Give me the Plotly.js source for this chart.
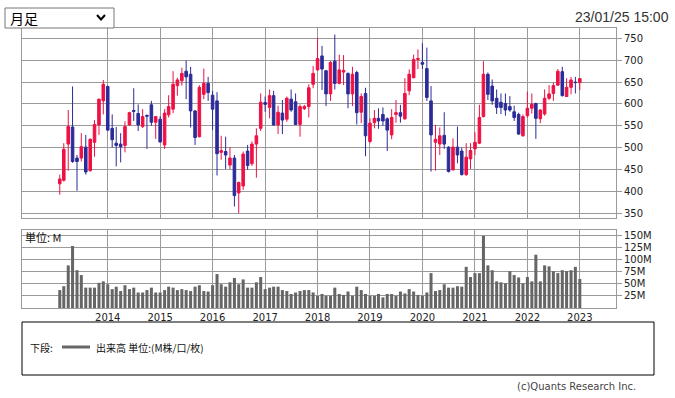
<!DOCTYPE html>
<html><head><meta charset="utf-8">
<script src="https://cdn.plot.ly/plotly-3.0.1.min.js"></script>
<style>html,body{margin:0;padding:0;background:#fff;}#chart{width:675px;height:398px;}</style>
</head><body><div id="chart"></div>
<script>
const months = [
'2013-02','2013-03','2013-04','2013-05','2013-06','2013-07','2013-08','2013-09','2013-10','2013-11','2013-12',
'2014-01','2014-02','2014-03','2014-04','2014-05','2014-06','2014-07','2014-08','2014-09','2014-10','2014-11','2014-12',
'2015-01','2015-02','2015-03','2015-04','2015-05','2015-06','2015-07','2015-08','2015-09','2015-10','2015-11','2015-12',
'2016-01','2016-02','2016-03','2016-04','2016-05','2016-06','2016-07','2016-08','2016-09','2016-10','2016-11','2016-12',
'2017-01','2017-02','2017-03','2017-04','2017-05','2017-06','2017-07','2017-08','2017-09','2017-10','2017-11','2017-12',
'2018-01','2018-02','2018-03','2018-04','2018-05','2018-06','2018-07','2018-08','2018-09','2018-10','2018-11','2018-12',
'2019-01','2019-02','2019-03','2019-04','2019-05','2019-06','2019-07','2019-08','2019-09','2019-10','2019-11','2019-12',
'2020-01','2020-02','2020-03','2020-04','2020-05','2020-06','2020-07','2020-08','2020-09','2020-10','2020-11','2020-12',
'2021-01','2021-02','2021-03','2021-04','2021-05','2021-06','2021-07','2021-08','2021-09','2021-10','2021-11','2021-12',
'2022-01','2022-02','2022-03','2022-04','2022-05','2022-06','2022-07','2022-08','2022-09','2022-10','2022-11','2022-12',
'2023-01'];
const openP = [
417,425,508,547,476,476,501,447,512,552,607,
640,544,510,508,505,552,585,578,548,574,598,558,
565,506,575,588,642,653,675,668,584,525,622,647,
620,607,489,491,460,476,396,412,492,463,508,544,
603,592,619,552,579,565,611,605,553,589,594,645,
678,710,676,623,698,647,673,670,623,672,581,624,
514,557,567,576,566,529,576,580,566,630,660,702,
695,681,607,512,508,528,501,449,501,492,438,474,
497,510,571,668,641,613,604,601,594,582,576,527,
573,590,601,566,577,613,624,643,674,617,638,650,
649];
const highP = [
438,510,586,640,483,533,529,521,563,612,655,
642,576,547,533,560,582,636,599,588,575,607,572,
572,588,620,675,660,683,699,685,586,643,681,662,
630,627,527,525,501,483,422,491,506,514,544,624,
617,633,630,596,609,617,633,624,599,598,645,687,
752,733,678,698,759,713,712,672,685,676,624,637,
567,586,590,592,569,588,609,598,659,679,713,725,
739,729,641,552,546,581,503,521,548,500,510,510,
535,598,698,672,656,633,624,624,618,596,580,576,
628,624,603,588,633,643,649,680,685,659,662,662,
659];
const lowP = [
392,422,447,465,401,468,438,445,479,529,576,
538,500,457,466,489,550,561,538,545,497,550,520,
511,497,569,579,619,642,611,546,506,523,611,607,
540,436,472,451,451,365,350,403,449,458,431,538,
582,567,550,531,531,559,582,552,525,586,569,636,
676,632,595,607,633,645,643,590,595,553,556,480,
510,544,543,550,492,519,557,557,563,620,659,680,
680,607,445,447,483,497,443,447,464,436,435,451,
483,508,569,609,598,577,577,573,582,561,529,525,
569,578,520,556,573,609,607,642,617,617,622,624,
632];
const closeP = [
428,496,548,468,468,502,444,519,553,611,645,
540,518,505,502,548,580,583,552,571,572,558,571,
513,579,594,645,655,670,662,584,523,638,647,626,
588,486,493,483,476,390,420,485,459,508,527,604,
599,619,552,581,563,613,586,553,594,594,637,670,
704,680,623,695,647,678,677,623,668,580,617,527,
556,567,561,561,540,569,580,572,624,668,702,704,
691,615,529,519,527,508,445,501,483,438,478,493,
512,569,668,622,607,592,592,586,586,569,531,571,
590,599,567,586,613,623,642,675,619,638,655,649,
658];
const volumeM = [
37,45,88,128,78,68,42,42,42,52,55,
49,39,44,35,47,39,42,32,32,37,42,32,
32,37,44,42,37,39,37,35,44,47,35,34,
47,70,49,44,53,62,49,59,42,42,53,64,
39,42,44,44,37,35,29,32,35,37,37,32,
25,29,25,25,42,29,27,34,25,44,37,29,
25,25,29,22,29,29,25,34,30,39,34,27,
25,32,72,35,37,49,42,42,45,44,85,64,
72,72,149,88,78,55,53,51,76,68,63,51,
64,55,110,55,88,86,76,72,78,76,78,85,
60];
const yearTicks = ['2014-01-01','2015-01-01','2016-01-01','2017-01-01','2018-01-01','2019-01-01','2020-01-01','2021-01-01','2022-01-01','2023-01-01'];
const yearLabels = ['2014','2015','2016','2017','2018','2019','2020','2021','2022','2023'];
const priceTicks = [350,400,450,500,550,600,650,700,750];
const volTicks = [25,50,75,100,125,150];
const volLabels = ['25M','50M','75M','100M','125M','150M'];

const RED = '#ee1144', BLUE = '#2b2b99', GRID = '#9a9a9a';
const L = 22, R = 616, T = 28, B = 308;
const px = x => (x - L) / (R - L);
const py = y => (B - y) / (B - T);
const tickFont = {family: 'DejaVu Sans, Verdana, sans-serif', size: 10, color: '#222'};
const jp = 'Noto Sans CJK JP, sans-serif';

const traces = [
  {type: 'candlestick', x: months, open: openP, high: highP, low: lowP, close: closeP,
   xaxis: 'x', yaxis: 'y', whiskerwidth: 0, hoverinfo: 'skip', showlegend: false,
   increasing: {line: {color: RED, width: 1}, fillcolor: RED},
   decreasing: {line: {color: BLUE, width: 1}, fillcolor: BLUE}},
  {type: 'bar', x: months, y: volumeM, xaxis: 'x2', yaxis: 'y2',
   marker: {color: '#666666', line: {width: 0}}, hoverinfo: 'skip', showlegend: false}
];

const xRange = ['2012-05-14', '2023-09-10'];
const axX = {type: 'date', range: xRange, tickvals: yearTicks, showgrid: true, gridcolor: GRID, gridwidth: 1,
  showline: true, mirror: true, linecolor: GRID, linewidth: 1, ticks: '', zeroline: false, fixedrange: true};

const layout = {
  width: 675, height: 398, margin: {l: L, r: 675 - R, t: T, b: 398 - B, pad: 0},
  paper_bgcolor: '#fff', plot_bgcolor: '#fff', showlegend: false,
  bargap: 0.25, boxgap: 0.25, boxgroupgap: 0.15,
  xaxis: Object.assign({}, axX, {anchor: 'y', showticklabels: false, rangeslider: {visible: false}}),
  yaxis: {domain: [(B - 218) / (B - T), 1], range: [338.6, 774], side: 'right', tickvals: priceTicks,
    ticks: 'outside', ticklen: 5, tickcolor: GRID, showgrid: true, gridcolor: GRID, showline: true, mirror: true,
    linecolor: GRID, zeroline: false, tickfont: tickFont, anchor: 'x', fixedrange: true},
  xaxis2: Object.assign({}, axX, {anchor: 'y2', ticktext: yearLabels, showticklabels: true, tickfont: tickFont}),
  yaxis2: {domain: [0, (B - 230) / (B - T)], range: [0, 161], side: 'right', tickvals: volTicks, ticktext: volLabels,
    ticks: 'outside', ticklen: 5, tickcolor: GRID, showgrid: true, gridcolor: GRID, showline: true, mirror: true,
    linecolor: GRID, zeroline: false, tickfont: tickFont, anchor: 'x2', fixedrange: true},
  shapes: [
    {type: 'rect', xref: 'paper', yref: 'paper', x0: px(5), x1: px(114), y0: py(28), y1: py(8),
     line: {color: '#767676', width: 1}, fillcolor: '#fff'},
    {type: 'path', xref: 'paper', yref: 'paper',
     path: 'M' + px(97) + ',' + py(15) + ' L' + px(101) + ',' + py(19.5) + ' L' + px(105) + ',' + py(15),
     line: {color: '#000', width: 2}},
    {type: 'rect', xref: 'paper', yref: 'paper', x0: px(22), x1: px(654), y0: py(375), y1: py(322),
     line: {color: '#000', width: 1}, fillcolor: 'rgba(0,0,0,0)'},
    {type: 'line', xref: 'paper', yref: 'paper', x0: px(62), x1: px(90), y0: py(347), y1: py(347),
     line: {color: '#666', width: 3}}
  ],
  annotations: [
    {text: '月足', xref: 'paper', yref: 'paper', x: px(8), y: py(18), xanchor: 'left', yanchor: 'middle',
     showarrow: false, font: {family: jp, size: 14, color: '#000'}},
    {text: '23/01/25 15:00', xref: 'paper', yref: 'paper', x: px(671), y: py(17), xanchor: 'right', yanchor: 'middle',
     showarrow: false, font: {family: 'Liberation Sans, Arial, sans-serif', size: 14, color: '#333'}},
    {text: '単位: M', xref: 'paper', yref: 'paper', x: px(23), y: py(237), xanchor: 'left', yanchor: 'middle',
     showarrow: false, font: {family: jp, size: 11, color: '#111'}},
    {text: '下段:', xref: 'paper', yref: 'paper', x: px(28), y: py(347), xanchor: 'left', yanchor: 'middle',
     showarrow: false, font: {family: jp, size: 10, color: '#111'}},
    {text: '出来高 単位:(M株/口/枚)', xref: 'paper', yref: 'paper', x: px(94), y: py(347), xanchor: 'left', yanchor: 'middle',
     showarrow: false, font: {family: jp, size: 10, color: '#111'}},
    {text: '(c)Quants Research Inc.', xref: 'paper', yref: 'paper', x: px(638), y: py(386), xanchor: 'right', yanchor: 'middle',
     showarrow: false, font: {family: 'DejaVu Sans, sans-serif', size: 10, color: '#444'}}
  ]
};

Plotly.newPlot('chart', traces, layout, {displayModeBar: false, staticPlot: true});
</script>
</body></html>
